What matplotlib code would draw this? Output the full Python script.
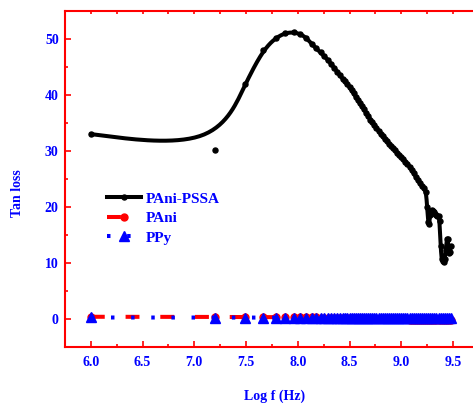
import numpy as np
import matplotlib
matplotlib.use("Agg")
import matplotlib.pyplot as plt
from matplotlib.lines import Line2D
from matplotlib.ticker import MultipleLocator

# ---- data -------------------------------------------------------------
# PAni-PSSA: log frequency and tan loss
logf_pssa = [6.000, 7.204, 7.491, 7.663, 7.785, 7.881, 7.959, 8.025, 8.083, 8.134,
             8.179, 8.220, 8.258, 8.292, 8.324, 8.354, 8.382, 8.408, 8.433, 8.456,
             8.479,
             8.50, 8.52, 8.54, 8.56, 8.58, 8.60, 8.62, 8.64, 8.66, 8.68,
             8.70, 8.72, 8.74, 8.76, 8.78, 8.80, 8.82, 8.84, 8.86, 8.88,
             8.90, 8.92, 8.94, 8.96, 8.98, 9.00, 9.02, 9.04, 9.06, 9.08,
             9.10, 9.12, 9.14, 9.16, 9.18, 9.20, 9.22, 9.24,
             9.25, 9.26, 9.27, 9.28, 9.29, 9.30, 9.31, 9.32, 9.33, 9.34,
             9.35, 9.36, 9.37, 9.38, 9.39, 9.40, 9.41, 9.42, 9.43, 9.44,
             9.45, 9.46, 9.47, 9.48]
tan_pssa = [33.0, 30.2, 42.0, 48.0, 50.2, 51.1, 51.2, 50.9, 50.2, 49.1,
            48.3, 47.6, 46.9, 46.2, 45.5, 44.8, 44.1, 43.5, 42.9, 42.4,
            41.9,
            41.4, 40.8, 40.3, 39.7, 39.1, 38.5, 38.0, 37.4, 36.8, 36.2,
            35.6, 35.1, 34.6, 34.1, 33.6, 33.1, 32.6, 32.2, 31.7, 31.3,
            30.9, 30.5, 30.1, 29.7, 29.3, 28.9, 28.5, 28.1, 27.7, 27.2,
            26.6, 26.0, 25.4, 24.8, 24.2, 23.7, 23.3, 22.6,
            20.0, 17.3, 17.0, 18.6, 19.3, 19.4, 19.2, 19.0, 18.7, 18.5,
            18.4, 18.3, 17.5, 13.0, 10.6, 10.3, 10.2, 10.6, 12.3, 14.2,
            14.3, 11.8, 12.0, 13.0]

# PAni and PPy share one frequency grid
logf_ref = [6.000, 7.204, 7.491, 7.663, 7.785, 7.881, 7.959, 8.025, 8.083, 8.134,
            8.179, 8.220, 8.258, 8.292, 8.324, 8.354, 8.382, 8.408, 8.433, 8.456,
            8.479,
            8.50, 8.52, 8.54, 8.56, 8.58, 8.60, 8.62, 8.64, 8.66, 8.68,
            8.70, 8.72, 8.74, 8.76, 8.78, 8.80, 8.82, 8.84, 8.86, 8.88,
            8.90, 8.92, 8.94, 8.96, 8.98, 9.00, 9.02, 9.04, 9.06, 9.08,
            9.10, 9.12, 9.14, 9.16, 9.18, 9.20, 9.22, 9.24, 9.26, 9.28,
            9.30, 9.32, 9.34, 9.36, 9.38, 9.40, 9.42, 9.44, 9.46, 9.48]
tan_pani = [0.35, 0.32, 0.30, 0.29, 0.28, 0.27, 0.26, 0.25, 0.24, 0.23,
            0.22, 0.21, 0.20, 0.19, 0.18, 0.17, 0.16, 0.15, 0.14, 0.13,
            0.12,
            0.11, 0.10, 0.09, 0.08, 0.07, 0.06, 0.05, 0.04, 0.03, 0.02,
            0.01, 0.00, -0.01, -0.02, -0.03, -0.04, -0.05, -0.06, -0.07, -0.08,
            -0.09, -0.10, -0.10, -0.11, -0.11, -0.12, -0.12, -0.13, -0.13, -0.14,
            -0.14, -0.15, -0.15, -0.15, -0.16, -0.16, -0.16, -0.17, -0.17, -0.17,
            -0.18, -0.18, -0.18, -0.18, -0.19, -0.19, -0.19, -0.19, -0.20, -0.20]
tan_ppy = [0.22, 0.21, 0.21, 0.20, 0.20, 0.20, 0.19, 0.19, 0.19, 0.19,
           0.18, 0.18, 0.18, 0.18, 0.18, 0.17, 0.17, 0.17, 0.17, 0.17,
           0.17,
           0.17, 0.16, 0.16, 0.16, 0.16, 0.16, 0.16, 0.16, 0.16, 0.16,
           0.15, 0.15, 0.15, 0.15, 0.15, 0.15, 0.15, 0.15, 0.15, 0.15,
           0.15, 0.15, 0.15, 0.14, 0.14, 0.14, 0.14, 0.14, 0.14, 0.14,
           0.14, 0.14, 0.14, 0.14, 0.14, 0.14, 0.14, 0.13, 0.13, 0.13,
           0.13, 0.13, 0.13, 0.13, 0.13, 0.13, 0.13, 0.13, 0.13, 0.13]

series_names = ["PAni-PSSA", "PAni", "PPy"]
x_label = "Log f (Hz)"
y_label = "Tan loss"


def bspline(x, y, samples=16):
    """Uniform cubic B-spline through clamped end points (smooth connecting line)."""
    pts = np.column_stack([x, y])
    P = np.vstack([pts[0], pts[0], pts, pts[-1], pts[-1]])
    t = np.linspace(0.0, 1.0, samples, endpoint=False)[:, None]
    b0 = (1 - t) ** 3 / 6
    b1 = (3 * t ** 3 - 6 * t ** 2 + 4) / 6
    b2 = (-3 * t ** 3 + 3 * t ** 2 + 3 * t + 1) / 6
    b3 = t ** 3 / 6
    segs = [b0 * P[i] + b1 * P[i + 1] + b2 * P[i + 2] + b3 * P[i + 3]
            for i in range(len(P) - 3)]
    c = np.vstack(segs + [P[-1][None, :]])
    return c[:, 0], c[:, 1]


plt.rcParams["font.family"] = ["Liberation Serif", "DejaVu Serif"]
plt.rcParams["font.weight"] = "bold"
plt.rcParams["lines.scale_dashes"] = False

fig = plt.figure(figsize=(4.73, 4.03), dpi=100)
ax = fig.add_axes([0.1374, 0.1397, 0.875, 0.833])

# PAni-PSSA: smooth line plus markers
cx, cy = bspline(logf_pssa, tan_pssa)
ax.plot(cx, cy, color="black", lw=2.9, solid_capstyle="round",
        solid_joinstyle="round", zorder=3)
ax.plot(logf_pssa, tan_pssa, "o", color="black", ms=3.6, zorder=3)

# PAni and PPy
red_style = dict(color="red", lw=2.9, ls=(0, (10, 15)), marker="o", ms=5)
blue_style = dict(color="blue", lw=2.9, ls=(0, (2.5, 12)), marker="^", ms=6.5)
ax.plot(logf_ref, tan_pani, zorder=2, **red_style)
ax.plot(logf_ref, tan_ppy, zorder=2.5, **blue_style)

handles = [Line2D([], [], color="black", lw=2.9, marker="o", ms=3.6),
           Line2D([], [], **red_style),
           Line2D([], [], **blue_style)]
leg = ax.legend(handles, series_names, loc="upper left",
                bbox_to_anchor=(0.1015, 0.461), borderaxespad=0, borderpad=0,
                frameon=False, fontsize=11, handlelength=2.2,
                handletextpad=0.35, labelspacing=0.38, numpoints=1)
for txt in leg.get_texts():
    txt.set_color("blue")
    txt.set_fontweight("bold")

ax.set_xlim(5.75, 9.75)
ax.set_ylim(-5, 55)
ax.xaxis.set_major_locator(MultipleLocator(0.5))
ax.xaxis.set_minor_locator(MultipleLocator(0.25))
ax.yaxis.set_major_locator(MultipleLocator(10))
ax.yaxis.set_minor_locator(MultipleLocator(5))

for side in ("left", "bottom", "top"):
    ax.spines[side].set_color("red")
    ax.spines[side].set_linewidth(1.5)
ax.spines["right"].set_visible(False)

ax.tick_params(which="both", direction="in", color="red", width=1.2,
               labelcolor="blue", labelsize=10, right=False, top=False)
ax.tick_params(which="major", length=4.5)
ax.tick_params(which="minor", length=2.2)
ax.tick_params(axis="x", pad=6.5)
ax.tick_params(axis="y", pad=4.5)
for lab in ax.get_xticklabels() + ax.get_yticklabels():
    lab.set_fontweight("bold")

# small ticks along the top edge
top = ax.secondary_xaxis("top")
top.set_xticks(np.arange(5.75, 9.76, 0.25))
top.tick_params(direction="in", length=2.2, width=1.2, color="red",
                labeltop=False)
top.spines["top"].set_visible(False)

ax.set_xlabel(x_label, color="blue", fontsize=10, fontweight="bold")
ax.set_ylabel(y_label, color="blue", fontsize=10, fontweight="bold")
ax.xaxis.set_label_coords(0.506, -0.129)
ax.yaxis.set_label_coords(-0.098, 0.458)

fig.savefig("out.png", dpi=100)
